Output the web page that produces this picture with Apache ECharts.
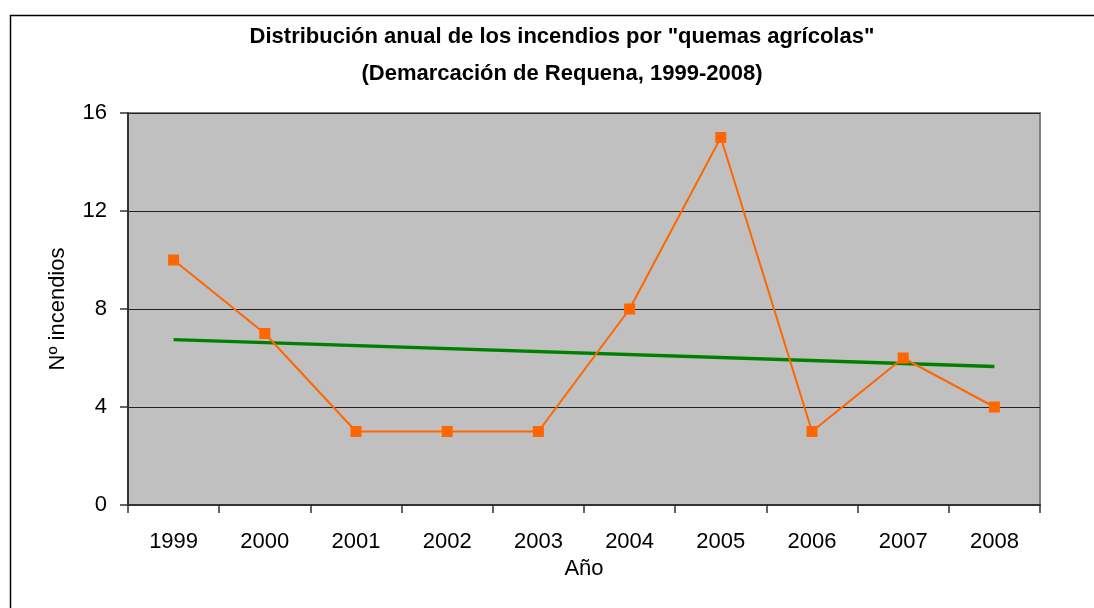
<!DOCTYPE html>
<html>
<head>
<meta charset="utf-8">
<script src="https://cdn.jsdelivr.net/npm/echarts@6/dist/echarts.min.js"></script>
<style>
  html, body { margin: 0; padding: 0; background: #fff; }
  #chart { width: 1094px; height: 608px; }
</style>
</head>
<body>
<div id="chart"></div>
<script>
const years = ['1999', '2000', '2001', '2002', '2003', '2004', '2005', '2006', '2007', '2008'];
const incendios = [10, 7, 3, 3, 3, 8, 15, 3, 6, 4];
// linea de tendencia (solo extremos)
const tendencia = [6.75, null, null, null, null, null, null, null, null, 5.65];
const yTicks = [0, 4, 8, 12, 16];

const font = '"Liberation Sans", Arial, sans-serif';

const chart = echarts.init(document.getElementById('chart'));

const option = {
  animation: false,
  backgroundColor: '#ffffff',
  textStyle: { fontFamily: font },
  graphic: [
    {
      type: 'rect',
      shape: { x: 10.5, y: 15.5, width: 1200, height: 700 },
      style: { fill: 'none', stroke: '#000', lineWidth: 1.5 },
      silent: true
    }
  ],
  title: {
    text: 'Distribución anual de los incendios por "quemas agrícolas"\n(Demarcación de Requena, 1999-2008)',
    left: 557,
    textAlign: 'center',
    top: 13,
    textStyle: {
      fontSize: 22,
      fontWeight: 'bold',
      color: '#000',
      lineHeight: 37,
      fontFamily: font
    }
  },
  grid: {
    left: 128,
    right: 54,
    top: 113,
    bottom: 103,
    show: true,
    backgroundColor: '#c0c0c0',
    borderColor: '#808080',
    borderWidth: 2
  },
  xAxis: {
    type: 'category',
    data: years,
    boundaryGap: true,
    name: 'Año',
    nameLocation: 'middle',
    nameGap: 53,
    nameTextStyle: { fontSize: 22, color: '#000', fontFamily: font },
    axisLine: { show: true, lineStyle: { color: '#333', width: 2 } },
    axisTick: { show: true, alignWithLabel: false, length: 8, lineStyle: { color: '#333', width: 1.5 } },
    axisLabel: { fontSize: 22, color: '#000', margin: 26, fontFamily: font },
    splitLine: { show: false }
  },
  yAxis: {
    type: 'value',
    min: yTicks[0],
    max: yTicks[yTicks.length - 1],
    interval: 4,
    name: 'Nº incendios',
    nameLocation: 'middle',
    nameGap: 59,
    nameRotate: 90,
    nameTextStyle: { fontSize: 22, color: '#000', fontFamily: font },
    axisLine: { show: true, lineStyle: { color: '#333', width: 2 } },
    axisTick: { show: true, inside: false, length: 8, lineStyle: { color: '#333', width: 1.5 } },
    axisLabel: { fontSize: 22, color: '#000', margin: 21, fontFamily: font },
    splitLine: { show: true, lineStyle: { color: '#222', width: 1 } }
  },
  series: [
    {
      name: 'Incendios',
      type: 'line',
      data: incendios,
      symbol: 'rect',
      symbolSize: 11,
      itemStyle: { color: '#ff6600' },
      lineStyle: { color: '#ff6600', width: 2 },
      z: 3
    },
    {
      name: 'Tendencia',
      type: 'line',
      data: tendencia,
      connectNulls: true,
      symbol: 'none',
      lineStyle: { color: '#008000', width: 3.5 },
      z: 2
    }
  ]
};

chart.setOption(option);
</script>
</body>
</html>
